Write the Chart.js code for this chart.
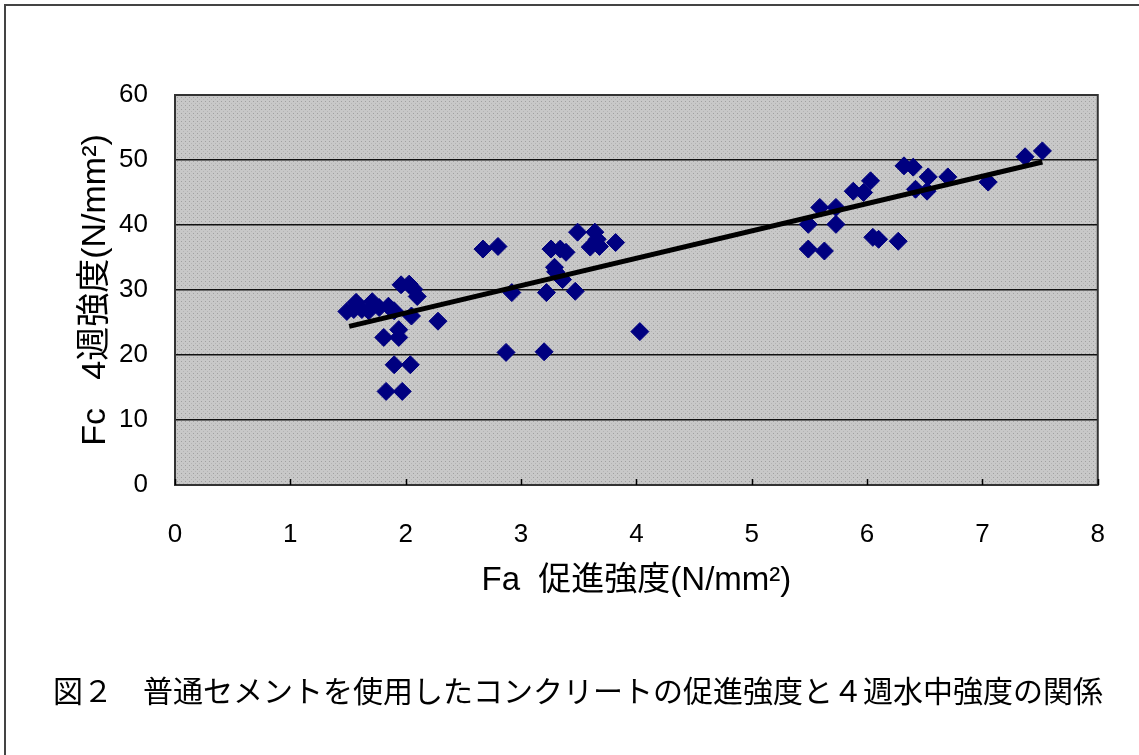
<!DOCTYPE html>
<html><head><meta charset="utf-8">
<script src="https://cdn.jsdelivr.net/npm/chart.js@4/dist/chart.umd.min.js"></script>
<style>html,body{margin:0;padding:0;background:#fff}#wrap{width:1139px;height:755px;position:relative}</style>
</head><body><div id="wrap"><canvas id="c" width="1139" height="755"></canvas></div>
<script>
// Fa: accelerated strength (N/mm2), Fc: 4-week strength (N/mm2)
const faValues = [1.49,1.55,1.57,1.62,1.68,1.71,1.77,1.85,1.90,1.96,2.03,2.07,2.10,2.05,2.28,1.81,1.94,1.94,1.90,2.04,1.83,1.97,
  2.67,2.80,2.92,2.87,3.20,3.22,3.26,3.34,3.29,3.36,3.39,3.47,3.49,3.64,3.60,3.68,3.82,4.03,3.30,3.66,
  5.49,5.59,5.73,5.73,5.49,5.63,5.88,5.97,6.03,6.05,6.10,6.27,6.32,6.40,6.42,6.53,6.52,6.70,7.05,7.37,7.52];
const fcValues = [26.7,27.0,28.1,27.0,26.8,28.2,27.3,27.5,26.8,30.8,30.9,30.1,29.0,26.0,25.2,22.7,23.9,22.7,18.5,18.5,14.4,14.4,
  36.3,36.7,29.6,20.4,20.5,29.6,36.3,36.3,33.5,31.6,35.8,29.8,38.9,38.9,36.6,36.7,37.3,23.6,32.8,37.8,
  40.1,42.7,42.7,40.1,36.3,36.0,45.2,45.0,46.8,38.1,37.8,37.5,49.1,48.9,45.5,47.4,45.2,47.4,46.6,50.5,51.4];
const trendFa = [1.51, 7.52];
const trendFc = [24.4, 49.7];
const xTicks = [0,1,2,3,4,5,6,7,8];
const yTicks = [0,10,20,30,40,50,60];
const xTitle = 'Fa  促進強度(N/mm²)';
const yTitle = 'Fc   4週強度(N/mm²)';
const caption = '図２　普通セメントを使用したコンクリートの促進強度と４週水中強度の関係';

const FONT = "'Liberation Sans', 'Noto Sans CJK JP', sans-serif";

// dotted gray plot background
const tile = document.createElement('canvas');
tile.width = 4; tile.height = 4;
const tc = tile.getContext('2d');
tc.fillStyle = '#c8c8c8'; tc.fillRect(0,0,4,4);
tc.fillStyle = '#a0a0a0'; tc.fillRect(1,1,1,1);
tc.fillStyle = '#b4b4b4'; tc.fillRect(3,3,1,1);

const decor = {
  id: 'decor',
  beforeDraw(chart) {
    const {ctx, chartArea: a} = chart;
    ctx.save();
    ctx.fillStyle = ctx.createPattern(tile, 'repeat');
    ctx.fillRect(a.left, a.top, a.right - a.left, a.bottom - a.top);
    ctx.restore();
  },
  afterDatasetsDraw(chart) {
    const {ctx, chartArea: a, scales} = chart;
    ctx.save();
    ctx.strokeStyle = '#333';
    ctx.lineWidth = 2;
    ctx.strokeRect(a.left, a.top, a.right - a.left, a.bottom - a.top);
    ctx.lineWidth = 1.5;
    ctx.strokeStyle = '#000';
    xTicks.forEach(v => {
      const px = Math.round(scales.x.getPixelForValue(v)) + 0.5;
      ctx.beginPath(); ctx.moveTo(px, a.bottom); ctx.lineTo(px, a.bottom - 6); ctx.stroke();
    });
    ctx.restore();
  },
  afterDraw(chart) {
    const {ctx} = chart;
    ctx.save();
    ctx.strokeStyle = '#444';
    ctx.lineWidth = 2;
    ctx.beginPath();
    ctx.moveTo(5, 755); ctx.lineTo(5, 5); ctx.lineTo(1139, 5);
    ctx.stroke();
    ctx.fillStyle = '#000';
    ctx.font = "30px " + FONT;
    ctx.textAlign = 'center';
    ctx.textBaseline = 'middle';
    ctx.fillText(caption, 578, 694);
    ctx.restore();
  }
};

new Chart(document.getElementById('c'), {
  type: 'scatter',
  data: {
    datasets: [
      {
        type: 'line',
        data: trendFa.map((x, i) => ({x, y: trendFc[i]})),
        borderColor: '#000',
        borderWidth: 5,
        pointRadius: 0,
        fill: false,
        order: 0
      },
      {
        data: faValues.map((x, i) => ({x, y: fcValues[i]})),
        pointStyle: 'rectRot',
        pointRadius: 9,
        pointBackgroundColor: '#000080',
        pointBorderColor: '#000080',
        pointBorderWidth: 1,
        order: 1
      }
    ]
  },
  options: {
    responsive: false,
    animation: false,
    devicePixelRatio: 1,
    layout: {padding: {left: 0, top: 95, right: 36, bottom: 140}},
    plugins: {legend: {display: false}, tooltip: {enabled: false}, title: {display: false}},
    scales: {
      x: {
        type: 'linear', min: 0, max: 8,
        afterFit(s) { s.height = 130; },
        afterBuildTicks(s) { s.ticks = xTicks.map(v => ({value: v})); },
        grid: {display: true, drawOnChartArea: false, drawTicks: false},
        border: {display: true, color: '#333', width: 2},
        ticks: {color: '#000', padding: 34, font: {family: FONT, size: 26}},
        title: {display: true, text: xTitle, color: '#000', font: {family: FONT, size: 33}, padding: {top: 0, bottom: 14}}
      },
      y: {
        type: 'linear', min: 0, max: 60,
        afterFit(s) { s.width = 175; },
        afterBuildTicks(s) { s.ticks = yTicks.map(v => ({value: v})); },
        grid: {color: '#111', lineWidth: 1.5, drawTicks: false},
        border: {display: true, color: '#333', width: 2},
        ticks: {color: '#000', padding: 27, font: {family: FONT, size: 26}},
        title: {display: true, text: yTitle, color: '#000', font: {family: FONT, size: 34}, padding: {top: 75, bottom: 0}}
      }
    }
  },
  plugins: [decor]
});
</script></body></html>
